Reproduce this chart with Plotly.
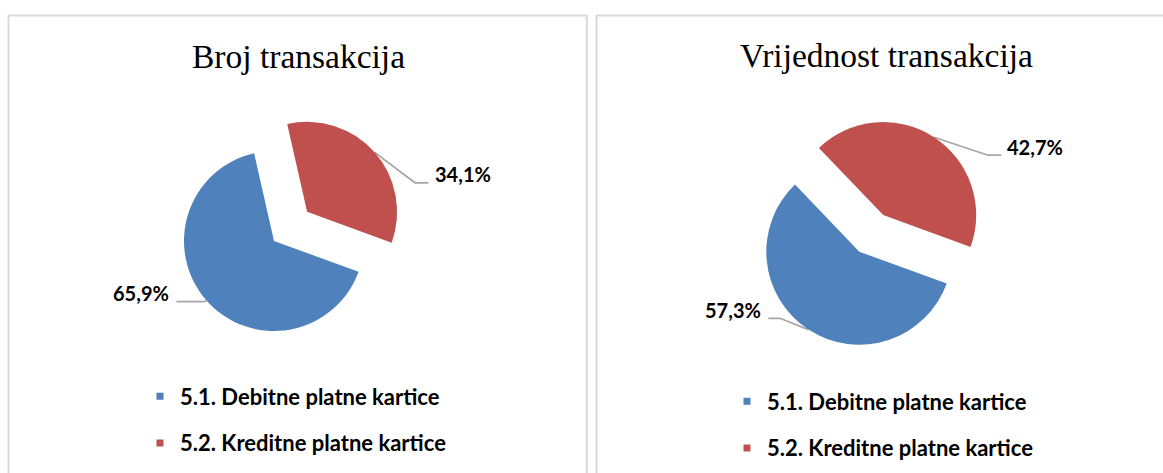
import math
import plotly.graph_objects as go

# ---------------- data ----------------
categories = ["5.1. Debitne platne kartice", "5.2. Kreditne platne kartice"]
broj_transakcija = [65.9, 34.1]
vrijednost_transakcija = [57.3, 42.7]
chart_titles = ["Broj transakcija", "Vrijednost transakcija"]

# ---------------- style / layout ----------------
W, H = 1163, 473
COLORS = ["#4F81BD", "#C0504D"]
LEADER_COLOR = "#A6A6A6"
BORDER_COLOR = "#D9D9D9"
ROTATION = 110
LABEL_FONT = dict(family="Lato, 'Open Sans', sans-serif", size=20, color="black", weight="bold")
LEGEND_FONT = dict(family="Lato, 'Open Sans', sans-serif", size=22, color="black", weight="bold")
TITLE_FONT = dict(family="'Liberation Serif', 'Times New Roman', serif", size=33.5, color="black")
DESC = 5.3  # distance from text baseline to annotation box bottom

charts = [
    dict(values=broj_transakcija, title=chart_titles[0], cx=274, cy=241, r=90, pull=0.49,
         title_x=298, title_base=69,
         leaders=[((-1.5, 1.2), (-30, 1.2), "right", -5.5),
                  ((40.4, 30.4), (53.7, 30.4), "left", 4.4)],
         legend_x=140, legend_y=375.5, legend_name="legend"),
    dict(values=vrijednost_transakcija, title=chart_titles[1], cx=859.3, cy=251.7, r=93, pull=0.47,
         title_x=886, title_base=67.7,
         leaders=[((-28.5, -11.3), (-40.2, -11.3), "right", -5),
                  ((54, 18), (67.4, 18), "left", 3.3)],
         legend_x=727, legend_y=380.5, legend_name="legend2"),
]

fig = go.Figure()
annotations = []

for ci, ch in enumerate(charts):
    vals = ch["values"]
    total = sum(vals)
    half = ch["r"] * (1 + ch["pull"])
    pulls = [0, ch["pull"]]
    fig.add_trace(go.Pie(
        labels=categories, values=vals, sort=False, direction="clockwise",
        rotation=ROTATION, pull=pulls,
        marker=dict(colors=COLORS, line=dict(width=0)),
        textinfo="none", showlegend=False, hoverinfo="label+percent",
        domain=dict(x=[(ch["cx"] - half) / W, (ch["cx"] + half) / W],
                    y=[1 - (ch["cy"] + half) / H, 1 - (ch["cy"] - half) / H]),
    ))

    # data labels + leader lines, positioned from slice mid-angles
    cum = 0
    for si, v in enumerate(vals):
        a0 = ROTATION + 360 * cum / total
        a1 = a0 + 360 * v / total
        cum += v
        mid = math.radians((a0 + a1) / 2)
        dx, dy = math.sin(mid), -math.cos(mid)
        ax = ch["cx"] + pulls[si] * ch["r"] * dx
        ay = ch["cy"] + pulls[si] * ch["r"] * dy
        px, py = ax + ch["r"] * dx, ay + ch["r"] * dy
        (ex, ey), (fx, fy), side, gap = ch["leaders"][si]
        xs = [px, px + ex, px + fx]
        ys = [py, py + ey, py + fy]
        fig.add_trace(go.Scatter(x=xs, y=ys, mode="lines", showlegend=False,
                                 hoverinfo="skip",
                                 line=dict(color=LEADER_COLOR, width=1.75)))
        txt = f"{v:.1f}%".replace(".", ",")
        annotations.append(dict(
            x=px + fx + gap, y=py + fy + DESC, xref="x", yref="y",
            text=txt, showarrow=False, xanchor=side, yanchor="bottom",
            font=LABEL_FONT))

    # title
    annotations.append(dict(
        x=ch["title_x"], y=ch["title_base"] + 8, xref="x", yref="y",
        text=ch["title"], showarrow=False, xanchor="center", yanchor="bottom",
        font=TITLE_FONT))

    # legend entries
    for si, cat in enumerate(categories):
        fig.add_trace(go.Scatter(
            x=[None], y=[None], mode="markers", name=cat,
            legend=ch["legend_name"], legendgroup=f"{ci}-{si}",
            marker=dict(symbol="square", size=7, color=COLORS[si]),
            showlegend=True))

# panel borders
shapes = [
    dict(type="rect", xref="x", yref="y", x0=8.5, x1=586.8, y0=15.5, y1=H + 20,
         line=dict(color=BORDER_COLOR, width=2)),
    dict(type="rect", xref="x", yref="y", x0=596.5, x1=W + 20, y0=15.5, y1=H + 20,
         line=dict(color=BORDER_COLOR, width=2)),
]

legend_common = dict(
    bgcolor="rgba(0,0,0,0)", borderwidth=0, font=LEGEND_FONT,
    tracegroupgap=15, xanchor="left", yanchor="top", orientation="v",
    itemclick=False, itemdoubleclick=False,
)

fig.update_layout(
    width=W, height=H,
    margin=dict(l=0, r=0, t=0, b=0),
    paper_bgcolor="white", plot_bgcolor="white",
    xaxis=dict(range=[0, W], visible=False, fixedrange=True),
    yaxis=dict(range=[H, 0], visible=False, fixedrange=True),
    annotations=annotations,
    shapes=shapes,
    legend=dict(x=charts[0]["legend_x"] / W, y=1 - charts[0]["legend_y"] / H, **legend_common),
    legend2=dict(x=charts[1]["legend_x"] / W, y=1 - charts[1]["legend_y"] / H, **legend_common),
    showlegend=True,
)

fig.write_html(
    "out.html",
    config={"displayModeBar": False},
    post_script="document.body.style.margin='0';document.body.style.overflow='hidden';",
)
